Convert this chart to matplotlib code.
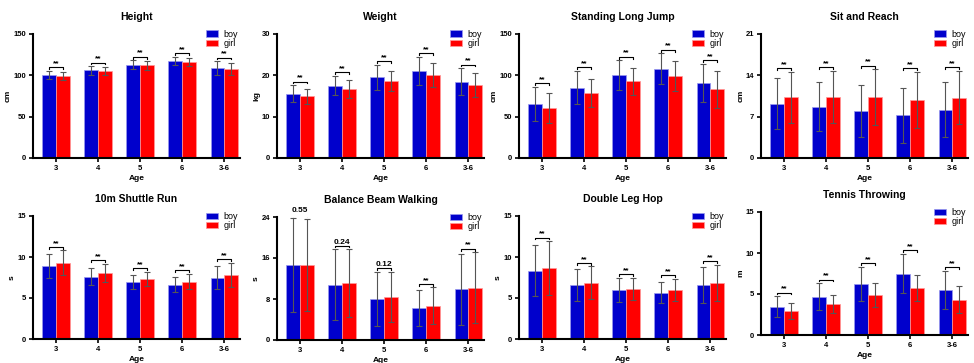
import matplotlib.pyplot as plt
import numpy as np

plt.rcParams['font.family'] = ['Liberation Sans', 'DejaVu Sans']

ages = ["3", "4", "5", "6", "3-6"]

# mean and sd per test, boy / girl
height_boy = [100, 106, 113, 117, 109]
height_girl = [99, 105, 112, 116, 108]
height_boy_sd = [5, 5, 5, 5, 8]
height_girl_sd = [4.5, 5, 5, 5, 7]

weight_boy = [15.6, 17.5, 19.5, 21.0, 18.5]
weight_girl = [14.9, 16.7, 18.6, 20.0, 17.6]
weight_boy_sd = [2.0, 2.3, 3.1, 3.4, 3.2]
weight_girl_sd = [1.9, 2.2, 2.5, 2.9, 2.9]

jump_boy = [65.3, 85, 100, 108, 90.8]
jump_girl = [60.4, 78.6, 92.8, 99, 83]
jump_boy_sd = [20.6, 20, 18, 18.5, 23.5]
jump_girl_sd = [18, 17.5, 16.5, 18, 22.4]

reach_boy = [9.2, 8.7, 7.9, 7.2, 8.2]
reach_girl = [10.3, 10.3, 10.3, 9.8, 10.2]
reach_boy_sd = [4.3, 4.1, 4.4, 4.7, 4.6]
reach_girl_sd = [4.3, 4.4, 4.7, 4.8, 4.5]

shuttle_boy = [8.9, 7.6, 6.95, 6.63, 7.48]
shuttle_girl = [9.3, 8.05, 7.3, 7.0, 7.84]
shuttle_boy_sd = [1.5, 1.05, 0.8, 0.9, 1.38]
shuttle_girl_sd = [1.5, 1.15, 0.87, 0.95, 1.46]

beam_boy = [14.6, 10.8, 8.0, 6.26, 9.9]
beam_girl = [14.7, 11.1, 8.35, 6.65, 10.2]
beam_boy_sd = [9.2, 6.9, 5.2, 3.5, 6.9]
beam_girl_sd = [9.0, 6.6, 4.9, 3.6, 6.9]

hop_boy = [8.35, 6.6, 5.96, 5.67, 6.57]
hop_girl = [8.67, 6.85, 6.08, 5.96, 6.85]
hop_boy_sd = [3.1, 1.95, 1.42, 1.3, 2.23]
hop_girl_sd = [3.25, 2.0, 1.34, 1.34, 2.23]

tennis_boy = [3.46, 4.67, 6.26, 7.48, 5.53]
tennis_girl = [2.93, 3.78, 4.84, 5.77, 4.31]
tennis_boy_sd = [1.26, 1.63, 2.07, 2.4, 2.32]
tennis_girl_sd = [0.93, 1.14, 1.46, 1.59, 1.62]

sig_all = ["**"] * 5
sig_beam = ["0.55", "0.24", "0.12", "**", "**"]

panels = [
    ("Height", "cm", [0, 50, 100, 150], height_boy, height_girl, height_boy_sd, height_girl_sd, sig_all),
    ("Weight", "kg", [0, 10, 20, 30], weight_boy, weight_girl, weight_boy_sd, weight_girl_sd, sig_all),
    ("Standing Long Jump", "cm", [0, 50, 100, 150], jump_boy, jump_girl, jump_boy_sd, jump_girl_sd, sig_all),
    ("Sit and Reach", "cm", [0, 7, 14, 21], reach_boy, reach_girl, reach_boy_sd, reach_girl_sd, sig_all),
    ("10m Shuttle Run", "s", [0, 5, 10, 15], shuttle_boy, shuttle_girl, shuttle_boy_sd, shuttle_girl_sd, sig_all),
    ("Balance Beam Walking", "s", [0, 8, 16, 24], beam_boy, beam_girl, beam_boy_sd, beam_girl_sd, sig_beam),
    ("Double Leg Hop", "s", [0, 5, 10, 15], hop_boy, hop_girl, hop_boy_sd, hop_girl_sd, sig_all),
    ("Tennis Throwing", "m", [0, 5, 10, 15], tennis_boy, tennis_girl, tennis_boy_sd, tennis_girl_sd, sig_all),
]

W, H = 974, 363
fig = plt.figure(figsize=(W / 100, H / 100), dpi=100)

lefts = [33, 277, 519, 761]
# (top, bottom) pixel rows of each panel
rows = [[(34, 158)] * 4, [(216, 339), (217, 340), (216, 339), (212, 335)]]
aw = 207

blue = "#0000CC"
red = "#FF0000"
bw = 0.33

for k, (title, unit, yt, boy, girl, bsd, gsd, sig) in enumerate(panels):
    r, c = divmod(k, 4)
    top, bot = rows[r][c]
    ax = fig.add_axes([lefts[c] / W, 1 - bot / H, aw / W, (bot - top) / H])
    x = np.arange(len(ages))
    ax.bar(x - bw / 2, boy, bw, color=blue, edgecolor="#9999ee", linewidth=0.5, label="boy")
    ax.bar(x + bw / 2, girl, bw, color=red, edgecolor="#ff9999", linewidth=0.5, label="girl")
    ax.errorbar(x - bw / 2, boy, yerr=bsd, fmt="none", ecolor="#555555", elinewidth=0.8, capsize=2.5, capthick=0.8)
    ax.errorbar(x + bw / 2, girl, yerr=gsd, fmt="none", ecolor="#555555", elinewidth=0.8, capsize=2.5, capthick=0.8)

    ymax = yt[-1]
    for i in range(len(ages)):
        yb = max(boy[i] + bsd[i], girl[i] + gsd[i]) + 0.03 * ymax
        ax.plot([x[i] - bw / 2, x[i] - bw / 2, x[i] + bw / 2, x[i] + bw / 2],
                [yb - 0.015 * ymax, yb, yb, yb - 0.015 * ymax], color="black", lw=0.8)
        ax.text(x[i], yb, sig[i], ha="center", va="bottom", fontsize=6, fontweight="bold")

    ax.set_xlim(-0.55, 4.37)
    ax.set_ylim(0, ymax)
    ax.set_yticks(yt)
    ax.set_xticks(x)
    ax.set_xticklabels(ages)
    for s in ["top", "right"]:
        ax.spines[s].set_visible(False)
    for s in ["left", "bottom"]:
        ax.spines[s].set_linewidth(1.5)
    ax.tick_params(labelsize=5.5, width=1.2, length=3, pad=2)
    for lab in ax.get_xticklabels() + ax.get_yticklabels():
        lab.set_fontweight("bold")
    ax.set_title(title, fontsize=7.5, fontweight="bold", pad=10)
    ax.set_ylabel(unit, fontsize=6, fontweight="bold", labelpad=1)
    ax.set_xlabel("Age", fontsize=6, fontweight="bold", labelpad=2)
    ax.legend(loc="upper right", bbox_to_anchor=(1.03, 1.1), frameon=False, fontsize=6.5,
              handlelength=1.4, handleheight=0.7, labelspacing=0.05, handletextpad=0.6)

fig.savefig("out.png", dpi=100)
